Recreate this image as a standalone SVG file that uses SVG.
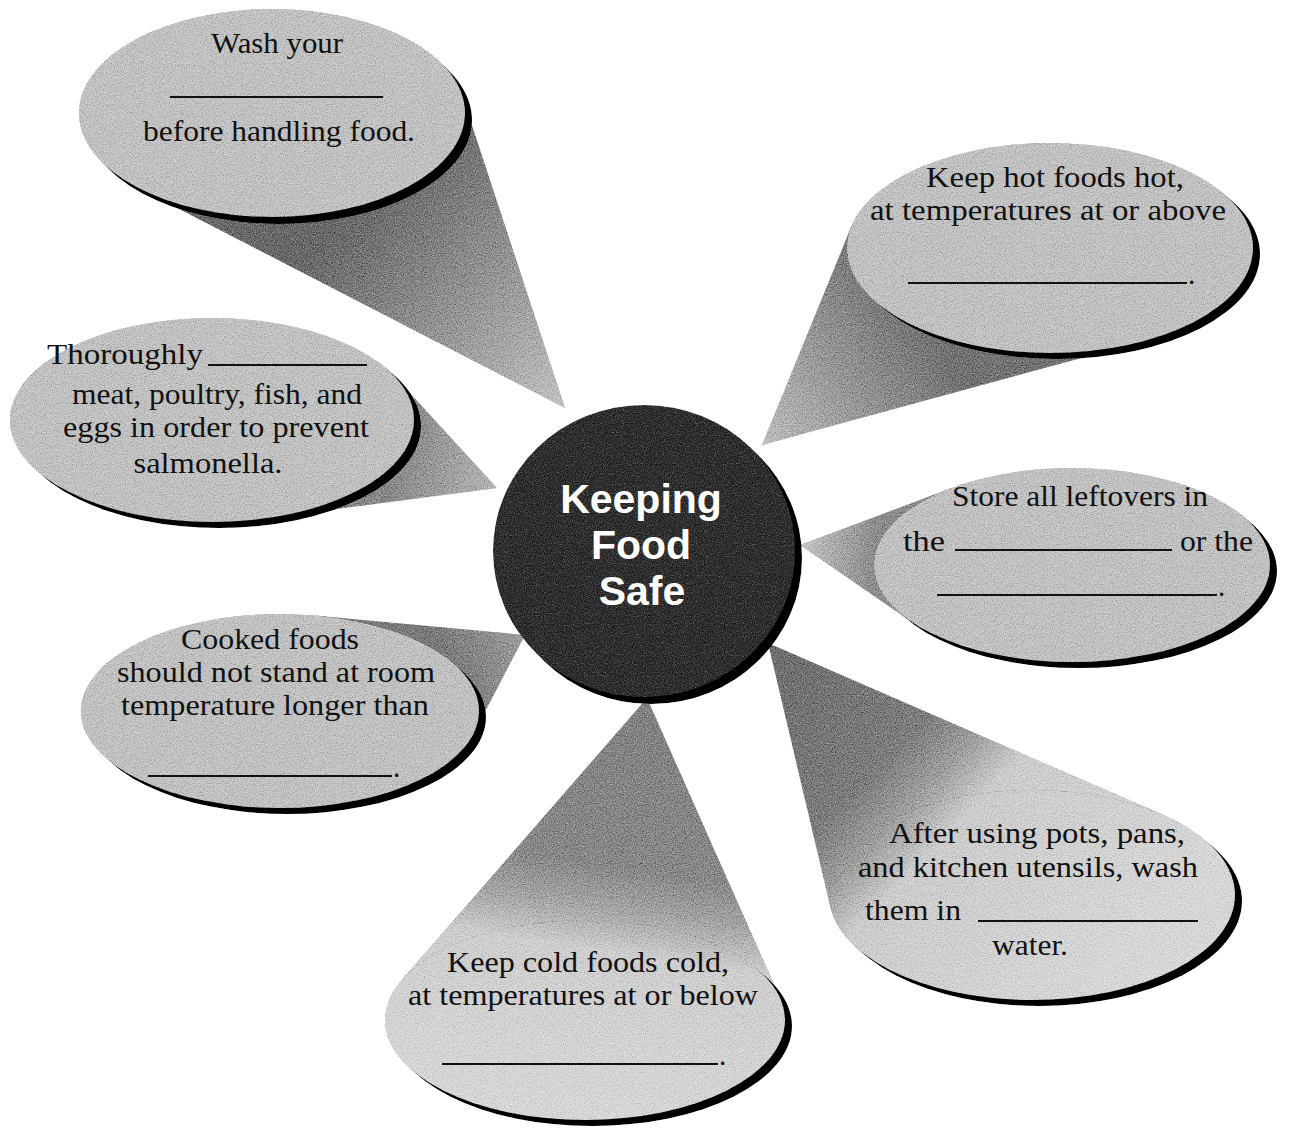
<svg xmlns="http://www.w3.org/2000/svg" width="1299" height="1131" viewBox="0 0 1299 1131">
<defs>
<style>
.t{font-family:"Liberation Serif","Times New Roman",serif;font-size:29px;fill:#111}
.m{text-anchor:middle}
.blank{stroke:#111;stroke-width:2}
.sh{fill:#000}
.bub{fill:#c3c3c3}
.title{font-family:"Liberation Sans",Arial,sans-serif;font-weight:700;font-size:41px;fill:#fff;text-anchor:middle}
</style>
<filter id="grain" filterUnits="userSpaceOnUse" x="0" y="0" width="1299" height="1131" color-interpolation-filters="sRGB">
<feTurbulence type="fractalNoise" baseFrequency="0.9" numOctaves="2" seed="4" result="n"/>
<feColorMatrix in="n" type="matrix" values="0.33 0.33 0.33 0 0 0.33 0.33 0.33 0 0 0.33 0.33 0.33 0 0 0 0 0 0 1" result="g"/>
<feComponentTransfer in="g" result="gc"><feFuncR type="linear" slope="2.2" intercept="-0.6"/><feFuncG type="linear" slope="2.2" intercept="-0.6"/><feFuncB type="linear" slope="2.2" intercept="-0.6"/></feComponentTransfer>
<feBlend in="gc" in2="SourceGraphic" mode="soft-light" result="b"/>
<feComposite in="b" in2="SourceAlpha" operator="in"/>
</filter>
<linearGradient id="g1" gradientUnits="userSpaceOnUse" x1="565" y1="408" x2="272" y2="113"><stop offset="0" stop-color="#c4c4c4"/><stop offset="0.69" stop-color="#6a6a6a"/></linearGradient>
<linearGradient id="g2" gradientUnits="userSpaceOnUse" x1="497" y1="488" x2="212" y2="420"><stop offset="0" stop-color="#b8b8b8"/><stop offset="0.36" stop-color="#8a8a8a"/></linearGradient>
<linearGradient id="g3" gradientUnits="userSpaceOnUse" x1="525" y1="635" x2="280" y2="711"><stop offset="0" stop-color="#a0a0a0"/><stop offset="0.32" stop-color="#7c7c7c"/></linearGradient>
<linearGradient id="g4" gradientUnits="userSpaceOnUse" x1="647" y1="698" x2="585" y2="1122"><stop offset="0" stop-color="#838383"/><stop offset="0.4" stop-color="#8a8a8a"/><stop offset="0.5" stop-color="#a8a8a8"/><stop offset="0.6" stop-color="#d0d0d0"/><stop offset="1" stop-color="#d8d8d8"/></linearGradient>
<linearGradient id="g5" gradientUnits="userSpaceOnUse" x1="768" y1="643" x2="1111" y2="971"><stop offset="0" stop-color="#6e6e6e"/><stop offset="0.35" stop-color="#7f7f7f"/><stop offset="0.45" stop-color="#a0a0a0"/><stop offset="0.55" stop-color="#cecece"/><stop offset="1" stop-color="#d8d8d8"/></linearGradient>
<linearGradient id="g6" gradientUnits="userSpaceOnUse" x1="800" y1="545" x2="1072" y2="565"><stop offset="0" stop-color="#c8c8c8"/><stop offset="0.28" stop-color="#8e8e8e"/></linearGradient>
<linearGradient id="g7" gradientUnits="userSpaceOnUse" x1="762" y1="445" x2="1050" y2="248"><stop offset="0" stop-color="#c0c0c0"/><stop offset="0.575" stop-color="#747474"/></linearGradient>
</defs>
<rect width="1299" height="1131" fill="#fff"/>

<g id="connectors" filter="url(#grain)">
<polygon points="565,408 462,94.9 272,113 138.5,188.1" fill="url(#g1)"/>
<polygon points="497,488 395.3,377.1 212,420 262.8,518.7" fill="url(#g2)"/>
<polygon points="525,635 317.2,615.7 280,711 472.9,734.9" fill="url(#g3)"/>
<polygon points="647,698 780.3,998.4 585,1020 401.6,980.1" fill="url(#g4)"/>
<polygon points="768,643 1162.6,814.6 1032,895 830.5,907.7" fill="url(#g5)"/>
<polygon points="800,545 951.5,488.1 1072,565 910.6,621.2" fill="url(#g6)"/>
<polygon points="762,445 851.4,226.3 1050,248 1144.5,340.9" fill="url(#g7)"/>
</g>

<g id="center">
<g filter="url(#grain)">
<ellipse class="sh" cx="651" cy="558" rx="151" ry="146"/>
<ellipse cx="644" cy="551" rx="151" ry="146" fill="#2d2d2d"/>
</g>
<text class="title" x="641" y="513">Keeping</text>
<text class="title" x="641" y="559">Food</text>
<text class="title" x="642" y="605">Safe</text>
</g>

<g id="wash-hands">
<g filter="url(#grain)">
<ellipse class="sh" cx="279" cy="120" rx="193" ry="104"/>
<ellipse class="bub" cx="272" cy="113" rx="193" ry="104"/>
</g>
<text class="t m" x="277" y="53" textLength="132" lengthAdjust="spacingAndGlyphs">Wash your</text>
<line class="blank" x1="170" y1="97" x2="383" y2="97"/>
<text class="t m" x="279" y="141" textLength="272" lengthAdjust="spacingAndGlyphs">before handling food.</text>
</g>

<g id="thoroughly">
<g filter="url(#grain)">
<ellipse class="sh" cx="219" cy="426" rx="202" ry="102"/>
<ellipse class="bub" cx="212" cy="420" rx="202" ry="102"/>
</g>
<text class="t" x="47" y="364" textLength="156" lengthAdjust="spacingAndGlyphs">Thoroughly</text>
<line class="blank" x1="208" y1="365" x2="367" y2="365"/>
<text class="t m" x="217" y="404" textLength="290" lengthAdjust="spacingAndGlyphs">meat, poultry, fish, and</text>
<text class="t m" x="216" y="437" textLength="306" lengthAdjust="spacingAndGlyphs">eggs in order to prevent</text>
<text class="t m" x="208" y="473" textLength="149" lengthAdjust="spacingAndGlyphs">salmonella.</text>
</g>

<g id="cooked-foods">
<g filter="url(#grain)">
<ellipse class="sh" cx="287" cy="717" rx="199" ry="97"/>
<ellipse class="bub" cx="280" cy="711" rx="199" ry="97"/>
</g>
<text class="t m" x="270" y="649" textLength="178" lengthAdjust="spacingAndGlyphs">Cooked foods</text>
<text class="t m" x="276" y="682" textLength="318" lengthAdjust="spacingAndGlyphs">should not stand at room</text>
<text class="t m" x="275" y="715" textLength="308" lengthAdjust="spacingAndGlyphs">temperature longer than</text>
<line class="blank" x1="148" y1="776" x2="392" y2="776"/>
<text class="t" x="393" y="777">.</text>
</g>

<g id="cold-foods">
<g filter="url(#grain)">
<ellipse class="sh" cx="592" cy="1026" rx="200" ry="100"/>
<ellipse cx="585" cy="1020" rx="200" ry="100" fill="url(#g4)"/>
</g>
<text class="t m" x="588" y="972" textLength="282" lengthAdjust="spacingAndGlyphs">Keep cold foods cold,</text>
<text class="t m" x="583" y="1005" textLength="350" lengthAdjust="spacingAndGlyphs">at temperatures at or below</text>
<line class="blank" x1="442" y1="1064" x2="718" y2="1064"/>
<text class="t" x="719" y="1065">.</text>
</g>

<g id="wash-utensils">
<g filter="url(#grain)">
<ellipse class="sh" cx="1039" cy="901" rx="203" ry="105"/>
<ellipse cx="1032" cy="895" rx="203" ry="105" fill="url(#g5)"/>
</g>
<text class="t m" x="1037" y="843" textLength="296" lengthAdjust="spacingAndGlyphs">After using pots, pans,</text>
<text class="t m" x="1028" y="877" textLength="340" lengthAdjust="spacingAndGlyphs">and kitchen utensils, wash</text>
<text class="t" x="865" y="920" textLength="96" lengthAdjust="spacingAndGlyphs">them in</text>
<line class="blank" x1="978" y1="921" x2="1198" y2="921"/>
<text class="t m" x="1030" y="955" textLength="76" lengthAdjust="spacingAndGlyphs">water.</text>
</g>

<g id="leftovers">
<g filter="url(#grain)">
<ellipse class="sh" cx="1079" cy="571" rx="198" ry="97"/>
<ellipse class="bub" cx="1072" cy="565" rx="198" ry="97"/>
</g>
<text class="t m" x="1080" y="506" textLength="256" lengthAdjust="spacingAndGlyphs">Store all leftovers in</text>
<text class="t" x="903" y="551" textLength="42" lengthAdjust="spacingAndGlyphs">the</text>
<line class="blank" x1="955" y1="550" x2="1172" y2="550"/>
<text class="t" x="1180" y="551" textLength="73" lengthAdjust="spacingAndGlyphs">or the</text>
<line class="blank" x1="937" y1="595" x2="1217" y2="595"/>
<text class="t" x="1218" y="596">.</text>
</g>

<g id="hot-foods">
<g filter="url(#grain)">
<ellipse class="sh" cx="1057" cy="254" rx="203" ry="105"/>
<ellipse class="bub" cx="1050" cy="248" rx="203" ry="105"/>
</g>
<text class="t m" x="1055" y="187" textLength="258" lengthAdjust="spacingAndGlyphs">Keep hot foods hot,</text>
<text class="t m" x="1048" y="220" textLength="356" lengthAdjust="spacingAndGlyphs">at temperatures at or above</text>
<line class="blank" x1="908" y1="283" x2="1187" y2="283"/>
<text class="t" x="1188" y="284">.</text>
</g>
</svg>
